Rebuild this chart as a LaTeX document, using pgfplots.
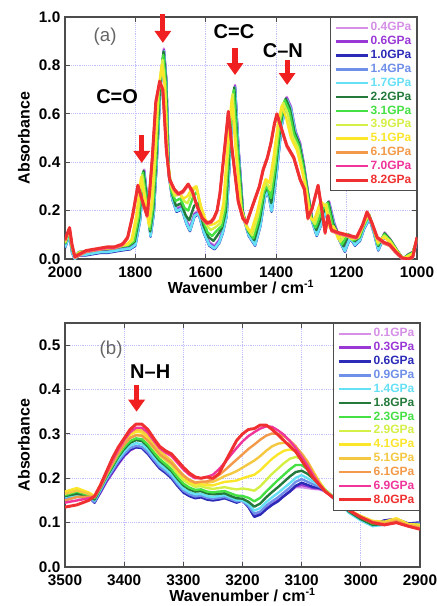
\documentclass[border=0pt]{standalone}
\usepackage{fontspec}
\setmainfont{Liberation Sans}
\usepackage{pgfplots}
\usepackage{pgfplotstable}
\pgfplotsset{compat=1.18}
\usetikzlibrary{arrows.meta}

\definecolor{c04}{HTML}{D58FE6}
\definecolor{c06}{HTML}{9A38D6}
\definecolor{c10}{HTML}{2B2BB8}
\definecolor{c14}{HTML}{6F8FE8}
\definecolor{c17}{HTML}{66E0F5}
\definecolor{c22}{HTML}{237A3A}
\definecolor{c31}{HTML}{44E044}
\definecolor{c39}{HTML}{D4F046}
\definecolor{c51}{HTML}{FBE62A}
\definecolor{cgold}{HTML}{F5C842}
\definecolor{c61}{HTML}{F29A4A}
\definecolor{c70}{HTML}{F0359A}
\definecolor{c82}{HTML}{F03030}
\definecolor{arrowred}{HTML}{F02020}

% panel (a): one row per spectral feature; intermediate pressures carry their own x
\pgfplotstableread{
xA p04 p06 p10 p14 p17 x22 p22 x31 p31 x39 p39 x51 p51 xE p61 p70 p82
2000 0.060 0.055 0.045 0.050 0.048 2000 0.062 2000 0.064 2000 0.067 2000 0.070 2000 0.074 0.077 0.080
1995 0.080 0.075 0.065 0.070 0.068 1995 0.082 1995 0.084 1995 0.087 1995 0.090 1995 0.094 0.097 0.100
1988 0.120 0.115 0.105 0.110 0.108 1988 0.121 1988 0.122 1988 0.124 1988 0.125 1987 0.124 0.127 0.130
1980 0.040 0.035 0.025 0.030 0.028 1980 0.042 1980 0.044 1980 0.047 1980 0.050 1980 0.054 0.057 0.060
1972 0.010 0.005 0.000 0.000 0.000 1972 0.010 1972 0.010 1972 0.010 1972 0.010 1972 0.004 0.007 0.010
1960 0.030 0.025 0.015 0.020 0.018 1960 0.029 1960 0.028 1960 0.027 1960 0.025 1960 0.014 0.017 0.020
1940 0.030 0.025 0.015 0.020 0.018 1940 0.031 1940 0.031 1940 0.032 1940 0.033 1940 0.029 0.032 0.035
1920 0.035 0.030 0.020 0.025 0.023 1920 0.036 1920 0.036 1920 0.037 1920 0.038 1920 0.034 0.037 0.040
1900 0.040 0.035 0.025 0.030 0.028 1900 0.041 1900 0.041 1900 0.042 1900 0.043 1900 0.039 0.042 0.045
1880 0.040 0.035 0.025 0.030 0.028 1880 0.041 1880 0.042 1880 0.044 1880 0.045 1880 0.044 0.047 0.050
1860 0.045 0.040 0.030 0.035 0.033 1860 0.046 1860 0.046 1860 0.047 1860 0.048 1860 0.044 0.047 0.050
1840 0.050 0.045 0.035 0.040 0.038 1840 0.051 1840 0.052 1840 0.054 1840 0.055 1840 0.054 0.057 0.060
1815 0.055 0.050 0.040 0.045 0.043 1817 0.056 1819 0.057 1822 0.059 1825 0.060 1835 0.059 0.062 0.065
1800 0.070 0.065 0.055 0.060 0.058 1802 0.072 1804 0.074 1808 0.077 1811 0.080 1822 0.084 0.087 0.090
1787 0.170 0.165 0.155 0.160 0.158 1789 0.171 1791 0.172 1794 0.174 1798 0.175 1808 0.174 0.177 0.180
1775 0.370 0.365 0.355 0.360 0.358 1777 0.364 1779 0.357 1781 0.347 1784 0.338 1793 0.299 0.302 0.305
1767 0.260 0.255 0.245 0.250 0.248 1768 0.258 1770 0.256 1772 0.253 1774 0.250 1780 0.234 0.237 0.240
1757 0.107 0.102 0.092 0.097 0.095 1758 0.114 1759 0.122 1761 0.133 1762 0.144 1767 0.174 0.177 0.180
1748 0.200 0.195 0.185 0.190 0.188 1749 0.207 1750 0.214 1752 0.225 1754 0.235 1760 0.264 0.267 0.270
1740 0.400 0.395 0.385 0.390 0.388 1741 0.402 1742 0.404 1744 0.407 1746 0.410 1752 0.414 0.417 0.420
1729 0.720 0.715 0.705 0.710 0.708 1730 0.713 1732 0.706 1734 0.696 1736 0.685 1742 0.644 0.647 0.650
1719 0.870 0.865 0.855 0.860 0.858 1720 0.857 1721 0.843 1723 0.823 1725 0.803 1731 0.729 0.732 0.735
1712 0.740 0.735 0.725 0.730 0.728 1713 0.736 1714 0.732 1716 0.726 1717 0.720 1722 0.694 0.697 0.700
1705 0.360 0.355 0.345 0.350 0.348 1706 0.380 1707 0.390 1708 0.410 1709 0.420 1712 0.444 0.447 0.450
1695 0.260 0.255 0.245 0.250 0.248 1696 0.270 1698 0.280 1699 0.300 1700 0.310 1703 0.324 0.327 0.330
1683 0.210 0.205 0.195 0.200 0.198 1685 0.220 1686 0.240 1688 0.260 1689 0.270 1690 0.284 0.287 0.290
1668 0.220 0.215 0.205 0.210 0.208 1670 0.230 1672 0.250 1673 0.270 1675 0.270 1678 0.264 0.267 0.270
1655 0.160 0.155 0.145 0.150 0.148 1657 0.180 1660 0.210 1662 0.240 1663 0.250 1665 0.274 0.277 0.280
1645 0.130 0.125 0.115 0.120 0.118 1647 0.160 1650 0.200 1652 0.230 1652 0.260 1650 0.304 0.307 0.310
1632 0.190 0.185 0.175 0.180 0.178 1633 0.220 1635 0.260 1638 0.280 1640 0.290 1638 0.274 0.277 0.280
1620 0.200 0.195 0.185 0.190 0.188 1622 0.230 1624 0.280 1626 0.300 1628 0.300 1625 0.214 0.217 0.220
1605 0.120 0.115 0.105 0.110 0.108 1607 0.140 1610 0.170 1612 0.200 1614 0.220 1610 0.164 0.167 0.170
1590 0.070 0.065 0.055 0.060 0.058 1592 0.090 1595 0.110 1598 0.140 1600 0.160 1597 0.144 0.147 0.150
1575 0.055 0.050 0.040 0.045 0.043 1578 0.075 1582 0.095 1586 0.120 1588 0.140 1585 0.149 0.152 0.155
1562 0.080 0.075 0.065 0.070 0.068 1566 0.100 1570 0.115 1574 0.130 1576 0.145 1577 0.164 0.167 0.170
1552 0.120 0.115 0.105 0.110 0.108 1554 0.128 1555 0.136 1558 0.148 1560 0.160 1568 0.194 0.197 0.200
1541 0.190 0.185 0.175 0.180 0.178 1543 0.198 1545 0.206 1548 0.218 1550 0.230 1560 0.264 0.267 0.270
1527 0.550 0.545 0.535 0.540 0.538 1529 0.543 1531 0.536 1533 0.526 1536 0.515 1545 0.474 0.477 0.480
1517 0.720 0.715 0.705 0.710 0.708 1519 0.709 1521 0.698 1524 0.682 1526 0.665 1536 0.604 0.607 0.610
1508 0.480 0.475 0.465 0.470 0.468 1510 0.477 1511 0.474 1514 0.470 1516 0.465 1525 0.444 0.447 0.450
1494 0.190 0.185 0.175 0.180 0.178 1495 0.195 1497 0.200 1499 0.208 1501 0.215 1508 0.234 0.237 0.240
1478 0.110 0.105 0.095 0.100 0.098 1480 0.116 1481 0.122 1484 0.131 1486 0.140 1495 0.164 0.167 0.170
1460 0.070 0.065 0.055 0.060 0.058 1462 0.078 1465 0.086 1468 0.098 1472 0.110 1484 0.144 0.147 0.150
1445 0.150 0.145 0.135 0.140 0.138 1447 0.158 1449 0.166 1452 0.178 1455 0.190 1465 0.224 0.227 0.230
1432 0.270 0.265 0.255 0.260 0.258 1434 0.273 1435 0.276 1438 0.281 1440 0.285 1448 0.294 0.297 0.300
1423 0.290 0.285 0.275 0.280 0.278 1424 0.298 1426 0.306 1428 0.318 1430 0.330 1437 0.364 0.367 0.370
1413 0.210 0.205 0.195 0.200 0.198 1414 0.231 1415 0.252 1417 0.284 1419 0.315 1425 0.414 0.417 0.420
1400 0.350 0.345 0.335 0.340 0.338 1402 0.363 1403 0.376 1405 0.396 1408 0.415 1415 0.474 0.477 0.480
1385 0.560 0.555 0.545 0.550 0.548 1387 0.560 1389 0.560 1392 0.560 1395 0.560 1405 0.554 0.557 0.560
1370 0.670 0.665 0.655 0.660 0.658 1373 0.663 1376 0.656 1380 0.646 1384 0.635 1398 0.594 0.597 0.600
1358 0.630 0.625 0.615 0.620 0.618 1361 0.621 1363 0.612 1367 0.599 1372 0.585 1385 0.534 0.537 0.540
1345 0.530 0.525 0.515 0.520 0.518 1348 0.524 1350 0.518 1354 0.509 1358 0.500 1370 0.464 0.467 0.470
1332 0.480 0.475 0.465 0.470 0.468 1334 0.474 1336 0.468 1338 0.459 1341 0.450 1350 0.414 0.417 0.420
1322 0.400 0.395 0.385 0.390 0.388 1323 0.393 1324 0.386 1326 0.376 1327 0.365 1332 0.324 0.327 0.330
1310 0.280 0.275 0.265 0.270 0.268 1311 0.281 1312 0.282 1314 0.284 1315 0.285 1320 0.284 0.287 0.290
1298 0.170 0.165 0.155 0.160 0.158 1299 0.170 1300 0.170 1302 0.170 1304 0.170 1310 0.164 0.167 0.170
1285 0.110 0.105 0.095 0.100 0.098 1286 0.120 1288 0.130 1290 0.145 1292 0.160 1298 0.204 0.207 0.210
1268 0.170 0.165 0.155 0.160 0.158 1269 0.184 1271 0.197 1273 0.217 1274 0.238 1281 0.299 0.302 0.305
1250 0.240 0.235 0.225 0.230 0.228 1252 0.236 1254 0.232 1257 0.226 1260 0.220 1270 0.194 0.197 0.200
1235 0.150 0.145 0.135 0.140 0.138 1238 0.146 1240 0.142 1244 0.136 1248 0.130 1261 0.104 0.107 0.110
1220 0.090 0.085 0.075 0.080 0.078 1223 0.099 1227 0.108 1232 0.122 1237 0.135 1253 0.174 0.177 0.180
1205 0.045 0.040 0.030 0.035 0.033 1209 0.053 1213 0.060 1218 0.071 1224 0.083 1243 0.114 0.117 0.120
1190 0.100 0.095 0.085 0.090 0.088 1194 0.101 1197 0.102 1202 0.104 1208 0.105 1225 0.104 0.107 0.110
1176 0.070 0.065 0.055 0.060 0.058 1178 0.073 1181 0.076 1184 0.081 1188 0.085 1200 0.094 0.097 0.100
1162 0.090 0.085 0.075 0.080 0.078 1163 0.090 1164 0.090 1166 0.090 1167 0.090 1172 0.084 0.087 0.090
1150 0.140 0.135 0.125 0.130 0.128 1151 0.140 1151 0.140 1152 0.140 1153 0.140 1155 0.134 0.137 0.140
1135 0.180 0.175 0.165 0.170 0.168 1136 0.182 1136 0.183 1137 0.185 1139 0.188 1142 0.189 0.192 0.195
1122 0.120 0.115 0.105 0.110 0.108 1123 0.123 1123 0.126 1124 0.131 1125 0.135 1128 0.144 0.147 0.150
1110 0.050 0.045 0.035 0.040 0.038 1110 0.054 1111 0.058 1111 0.064 1112 0.070 1113 0.084 0.087 0.090
1092 0.110 0.105 0.095 0.100 0.098 1092 0.106 1093 0.102 1093 0.096 1094 0.090 1095 0.064 0.067 0.070
1075 0.080 0.075 0.065 0.070 0.068 1075 0.078 1076 0.076 1076 0.073 1077 0.070 1078 0.054 0.057 0.060
1058 0.040 0.035 0.025 0.030 0.028 1058 0.039 1058 0.038 1059 0.037 1059 0.035 1060 0.024 0.027 0.030
1040 0.000 0.000 0.000 0.000 0.000 1040 0.001 1040 0.001 1041 0.002 1041 0.003 1042 0.000 0.002 0.005
1025 0.020 0.015 0.005 0.010 0.008 1025 0.018 1025 0.016 1025 0.013 1025 0.010 1025 0.000 0.000 0.000
1012 0.030 0.025 0.015 0.020 0.018 1012 0.028 1012 0.026 1012 0.023 1012 0.020 1012 0.004 0.007 0.010
1000 0.080 0.075 0.065 0.070 0.068 1000 0.081 1000 0.082 1000 0.084 1000 0.085 1000 0.084 0.087 0.090
}\tabA

% panel (b): N-H region
\pgfplotstableread{
x q01 q03 q06 q09 q14 q18 q23 q29 q41 q51 q61 q69 q80
3500 0.150 0.155 0.155 0.152 0.158 0.160 0.162 0.168 0.170 0.165 0.150 0.145 0.135
3480 0.158 0.160 0.160 0.158 0.162 0.165 0.170 0.175 0.178 0.172 0.158 0.150 0.140
3460 0.158 0.158 0.158 0.156 0.160 0.160 0.162 0.165 0.168 0.165 0.158 0.155 0.150
3450 0.148 0.146 0.145 0.147 0.150 0.152 0.155 0.158 0.160 0.158 0.158 0.158 0.160
3440 0.168 0.168 0.170 0.172 0.175 0.178 0.178 0.182 0.185 0.185 0.180 0.182 0.185
3430 0.192 0.192 0.195 0.197 0.200 0.203 0.205 0.208 0.212 0.212 0.208 0.212 0.215
3420 0.212 0.212 0.215 0.217 0.222 0.225 0.228 0.232 0.236 0.238 0.232 0.240 0.245
3410 0.232 0.232 0.235 0.238 0.243 0.248 0.251 0.256 0.261 0.264 0.256 0.265 0.270
3400 0.250 0.250 0.252 0.255 0.260 0.266 0.270 0.276 0.282 0.286 0.276 0.286 0.290
3390 0.263 0.263 0.265 0.268 0.274 0.280 0.284 0.291 0.298 0.302 0.291 0.304 0.310
3380 0.270 0.270 0.270 0.273 0.279 0.286 0.290 0.298 0.305 0.310 0.297 0.314 0.322
3370 0.269 0.269 0.268 0.271 0.277 0.284 0.288 0.296 0.303 0.308 0.296 0.314 0.322
3360 0.257 0.257 0.255 0.259 0.265 0.272 0.276 0.284 0.291 0.296 0.285 0.303 0.310
3350 0.240 0.240 0.238 0.242 0.248 0.255 0.259 0.267 0.274 0.279 0.270 0.285 0.290
3340 0.225 0.225 0.222 0.226 0.232 0.239 0.243 0.251 0.258 0.263 0.254 0.268 0.272
3330 0.214 0.214 0.212 0.216 0.221 0.228 0.232 0.240 0.246 0.251 0.244 0.258 0.262
3320 0.202 0.202 0.200 0.204 0.209 0.216 0.220 0.228 0.234 0.239 0.234 0.250 0.255
3310 0.186 0.186 0.183 0.187 0.192 0.199 0.203 0.211 0.217 0.222 0.220 0.235 0.240
3300 0.171 0.171 0.168 0.172 0.177 0.184 0.188 0.196 0.202 0.207 0.206 0.220 0.225
3290 0.163 0.163 0.160 0.164 0.169 0.175 0.179 0.187 0.192 0.197 0.196 0.208 0.212
3280 0.158 0.158 0.155 0.159 0.164 0.170 0.174 0.181 0.186 0.191 0.190 0.200 0.203
3270 0.160 0.160 0.157 0.161 0.165 0.171 0.175 0.182 0.187 0.192 0.192 0.200 0.200
3260 0.155 0.155 0.152 0.156 0.160 0.166 0.170 0.178 0.184 0.190 0.193 0.203 0.203
3250 0.153 0.153 0.150 0.154 0.158 0.164 0.168 0.176 0.184 0.192 0.198 0.208 0.200
3240 0.155 0.155 0.152 0.156 0.160 0.165 0.170 0.178 0.188 0.198 0.207 0.220 0.210
3230 0.158 0.157 0.155 0.158 0.162 0.166 0.171 0.180 0.192 0.205 0.218 0.235 0.235
3220 0.153 0.152 0.150 0.153 0.157 0.160 0.166 0.177 0.193 0.210 0.230 0.252 0.260
3210 0.148 0.147 0.145 0.148 0.151 0.155 0.161 0.175 0.195 0.216 0.242 0.268 0.285
3200 0.152 0.151 0.150 0.150 0.150 0.154 0.160 0.177 0.200 0.224 0.254 0.283 0.300
3190 0.138 0.137 0.135 0.138 0.142 0.147 0.156 0.175 0.204 0.232 0.266 0.295 0.310
3180 0.116 0.114 0.113 0.120 0.127 0.136 0.148 0.172 0.208 0.240 0.276 0.304 0.312
3170 0.120 0.119 0.118 0.125 0.133 0.143 0.156 0.182 0.218 0.250 0.287 0.312 0.320
3160 0.132 0.131 0.130 0.138 0.146 0.157 0.170 0.196 0.231 0.262 0.296 0.317 0.320
3150 0.142 0.141 0.140 0.148 0.157 0.169 0.183 0.210 0.244 0.272 0.301 0.316 0.310
3140 0.150 0.150 0.148 0.157 0.167 0.180 0.196 0.222 0.254 0.278 0.300 0.308 0.298
3130 0.160 0.160 0.160 0.168 0.178 0.192 0.208 0.234 0.262 0.280 0.295 0.298 0.285
3120 0.170 0.171 0.170 0.179 0.189 0.204 0.220 0.244 0.265 0.278 0.285 0.284 0.272
3110 0.180 0.182 0.183 0.192 0.201 0.214 0.230 0.248 0.262 0.270 0.272 0.268 0.260
3100 0.180 0.185 0.190 0.198 0.207 0.217 0.230 0.244 0.252 0.256 0.254 0.248 0.240
3090 0.178 0.182 0.185 0.192 0.200 0.210 0.220 0.230 0.236 0.238 0.235 0.228 0.220
3080 0.176 0.178 0.180 0.186 0.192 0.199 0.206 0.212 0.214 0.214 0.210 0.205 0.200
3070 0.175 0.177 0.178 0.181 0.184 0.187 0.190 0.192 0.192 0.190 0.188 0.186 0.185
3060 0.170 0.171 0.172 0.173 0.174 0.174 0.174 0.173 0.172 0.171 0.170 0.170 0.170
3040 0.148 0.148 0.148 0.148 0.148 0.148 0.150 0.150 0.150 0.150 0.150 0.150 0.150
3020 0.125 0.125 0.125 0.124 0.122 0.125 0.128 0.128 0.128 0.128 0.128 0.128 0.128
3000 0.110 0.110 0.110 0.108 0.105 0.108 0.112 0.115 0.115 0.114 0.113 0.112 0.112
2980 0.095 0.095 0.095 0.093 0.092 0.095 0.098 0.102 0.104 0.103 0.101 0.100 0.100
2960 0.104 0.105 0.105 0.100 0.095 0.097 0.098 0.100 0.102 0.100 0.097 0.095 0.095
2940 0.107 0.108 0.108 0.105 0.103 0.104 0.105 0.108 0.110 0.107 0.103 0.100 0.100
2920 0.097 0.098 0.098 0.096 0.096 0.096 0.095 0.096 0.097 0.095 0.093 0.092 0.092
2900 0.100 0.100 0.100 0.098 0.096 0.095 0.092 0.094 0.095 0.092 0.088 0.086 0.085
}\tabB

\pgfplotsset{
  spec/.style={
    scale only axis, x dir=reverse, ymin=0, clip mode=individual,
    axis line style={draw=black!70, line width=1.1pt},
    tick style={draw=black!70, line width=0.8pt},
    major tick length=4pt,
    grid=major, major grid style={densely dotted, draw=blue!25, line width=0.6pt},
    tick label style={font=\fontsize{11.5}{12}\selectfont\bfseries},
    label style={font=\fontsize{12}{13}\selectfont\bfseries},
    xticklabel style={yshift=-2.5pt},
    xlabel style={yshift=5pt},
    /pgf/number format/assume math mode=true,
    xticklabel style={/pgf/number format/1000 sep={}},
    yticklabel style={/pgf/number format/.cd, fixed, fixed zerofill, precision=1},
    xlabel={Wavenumber / cm\textsuperscript{-1}},
    ylabel={Absorbance},
    legend cell align=left,
    legend style={at={(1,1)}, anchor=north east, draw=black!70, line width=0.8pt,
      fill=white, font=\fontsize{9}{9.5}\selectfont\bfseries,
      nodes={inner sep=1.3pt}, inner sep=2.5pt},
    legend image code/.code={\draw[#1] (0pt,0pt) -- (24pt,0pt);},
    every axis plot/.append style={line width=1.8pt, line join=round},
  },
}
\tikzset{
  redarrow/.style={draw=arrowred, line width=3.8pt, -{Triangle[width=12pt,length=9pt]}},
  tag/.style={font=\fontsize{15}{16}\selectfont\bfseries},
}

\begin{document}
\begin{tikzpicture}
\useasboundingbox (-48.75pt,12.75pt) rectangle (278.25pt,-441.75pt);

\begin{axis}[spec, at={(0,0)}, anchor=north west, width=264pt, height=181.5pt,
  xmin=1000, xmax=2000, ymax=1.0,
  xtick={1000,1200,1400,1600,1800,2000}, ytick={0,0.2,0.4,0.6,0.8,1.0}]
\addplot[c04] table[x=xA,y=p04]{\tabA}; \addlegendentry{\textcolor{c04}{0.4GPa}}
\addplot[c06] table[x=xA,y=p06]{\tabA}; \addlegendentry{\textcolor{c06}{0.6GPa}}
\addplot[c10] table[x=xA,y=p10]{\tabA}; \addlegendentry{\textcolor{c10}{1.0GPa}}
\addplot[c14] table[x=xA,y=p14]{\tabA}; \addlegendentry{\textcolor{c14}{1.4GPa}}
\addplot[c17] table[x=xA,y=p17]{\tabA}; \addlegendentry{\textcolor{c17}{1.7GPa}}
\addplot[c22] table[x=x22,y=p22]{\tabA}; \addlegendentry{\textcolor{c22}{2.2GPa}}
\addplot[c31] table[x=x31,y=p31]{\tabA}; \addlegendentry{\textcolor{c31}{3.1GPa}}
\addplot[c39] table[x=x39,y=p39]{\tabA}; \addlegendentry{\textcolor{c39}{3.9GPa}}
\addplot[c51] table[x=x51,y=p51]{\tabA}; \addlegendentry{\textcolor{c51}{5.1GPa}}
\addplot[c61] table[x=xE,y=p61]{\tabA}; \addlegendentry{\textcolor{c61}{6.1GPa}}
\addplot[c70] table[x=xE,y=p70]{\tabA}; \addlegendentry{\textcolor{c70}{7.0GPa}}
\addplot[c82, line width=2.2pt] table[x=xE,y=p82]{\tabA}; \addlegendentry{\textcolor{c82}{8.2GPa}}
\node[font=\fontsize{14}{15}\selectfont, text=black!60] at (axis cs:1886,0.917) {(a)};
\node[tag] at (axis cs:1852,0.669) {C=O};
\node[tag] at (axis cs:1520,0.938) {C=C};
\node[tag] at (axis cs:1381,0.860) {C--N};
\draw[redarrow] (axis cs:1782,0.512) -- (axis cs:1782,0.397);
\draw[redarrow] (axis cs:1722,1.012) -- (axis cs:1722,0.893);
\draw[redarrow] (axis cs:1517,0.872) -- (axis cs:1517,0.760);
\draw[redarrow] (axis cs:1369,0.822) -- (axis cs:1369,0.719);
\end{axis}

\begin{axis}[spec, at={(0,-229.5pt)}, anchor=north west, width=266.25pt, height=183pt,
  xmin=2900, xmax=3500, ymax=0.55,
  xtick={2900,3000,3100,3200,3300,3400,3500}, ytick={0,0.1,0.2,0.3,0.4,0.5}]
\addplot[c04] table[x=x,y=q01]{\tabB}; \addlegendentry{\textcolor{c04}{0.1GPa}}
\addplot[c06] table[x=x,y=q03]{\tabB}; \addlegendentry{\textcolor{c06}{0.3GPa}}
\addplot[c10] table[x=x,y=q06]{\tabB}; \addlegendentry{\textcolor{c10}{0.6GPa}}
\addplot[c14] table[x=x,y=q09]{\tabB}; \addlegendentry{\textcolor{c14}{0.9GPa}}
\addplot[c17] table[x=x,y=q14]{\tabB}; \addlegendentry{\textcolor{c17}{1.4GPa}}
\addplot[c22] table[x=x,y=q18]{\tabB}; \addlegendentry{\textcolor{c22}{1.8GPa}}
\addplot[c31] table[x=x,y=q23]{\tabB}; \addlegendentry{\textcolor{c31}{2.3GPa}}
\addplot[c39] table[x=x,y=q29]{\tabB}; \addlegendentry{\textcolor{c39}{2.9GPa}}
\addplot[c51] table[x=x,y=q41]{\tabB}; \addlegendentry{\textcolor{c51}{4.1GPa}}
\addplot[cgold] table[x=x,y=q51]{\tabB}; \addlegendentry{\textcolor{cgold}{5.1GPa}}
\addplot[c61] table[x=x,y=q61]{\tabB}; \addlegendentry{\textcolor{c61}{6.1GPa}}
\addplot[c70] table[x=x,y=q69]{\tabB}; \addlegendentry{\textcolor{c70}{6.9GPa}}
\addplot[c82, line width=2.2pt] table[x=x,y=q80]{\tabB}; \addlegendentry{\textcolor{c82}{8.0GPa}}
\node[font=\fontsize{14}{15}\selectfont, text=black!60] at (axis cs:3422,0.489) {(b)};
\node[tag] at (axis cs:3356,0.441) {N--H};
\draw[redarrow] (axis cs:3379,0.410) -- (axis cs:3379,0.350);
\end{axis}
\end{tikzpicture}
\end{document}
